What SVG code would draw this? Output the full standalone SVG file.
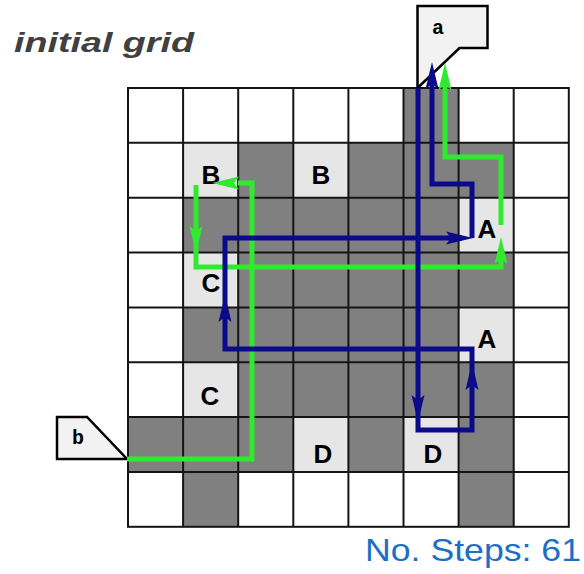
<svg xmlns="http://www.w3.org/2000/svg" xmlns:xlink="http://www.w3.org/1999/xlink" width="584" height="574" viewBox="0 0 584 574">
<style>
.dk{fill:#808080}
.lt{fill:#e6e6e6}
.gl{fill:none;stroke:#141414;stroke-width:2}
.lbl{font-family:"Liberation Sans",Arial,sans-serif;font-weight:bold;font-size:26px;fill:#000;text-anchor:middle}
.pin{fill:#f2f2f2;stroke:#000;stroke-width:2.5;stroke-linejoin:miter}
.pint{font-family:"Liberation Mono","Courier New",monospace;font-weight:bold;font-size:20px;fill:#000;text-anchor:middle}
.blue{fill:none;stroke:#0a0a8a;stroke-width:5}
.green{fill:none;stroke:#30ea30;stroke-width:5}
.ahb{fill:#0a0a8a}
.ahg{fill:#30ea30}
</style>
<defs>
<path id="ah" d="M0,0 L-27,-6.5 L-22,0 L-27,6.5 Z"/>
</defs>
<rect width="584" height="574" fill="#fff"/>
<text x="14" y="52" font-family="'Liberation Sans',Arial,sans-serif" font-weight="bold" font-style="italic" font-size="28" fill="#404040" textLength="180" lengthAdjust="spacingAndGlyphs">initial grid</text>
<g id="grid">
<rect x="128" y="88" width="440.8" height="438.8" fill="#fff"/>
<rect class="dk" x="403.5" y="88" width="55.1" height="54.85"/>
<rect class="dk" x="238.2" y="142.85" width="55.1" height="54.85"/>
<rect class="dk" x="348.4" y="142.85" width="165.3" height="54.85"/>
<rect class="dk" x="183.1" y="197.7" width="275.5" height="54.85"/>
<rect class="dk" x="238.2" y="252.55" width="275.5" height="54.85"/>
<rect class="dk" x="183.1" y="307.4" width="275.5" height="54.85"/>
<rect class="dk" x="238.2" y="362.25" width="275.5" height="54.85"/>
<rect class="dk" x="128" y="417.1" width="165.3" height="54.85"/>
<rect class="dk" x="348.4" y="417.1" width="55.1" height="54.85"/>
<rect class="dk" x="458.6" y="417.1" width="55.1" height="54.85"/>
<rect class="dk" x="183.1" y="471.95" width="55.1" height="54.85"/>
<rect class="dk" x="458.6" y="471.95" width="55.1" height="54.85"/>
<rect class="lt" x="183.1" y="142.85" width="55.1" height="54.85"/>
<rect class="lt" x="293.3" y="142.85" width="55.1" height="54.85"/>
<rect class="lt" x="458.6" y="197.7" width="55.1" height="54.85"/>
<rect class="lt" x="183.1" y="252.55" width="55.1" height="54.85"/>
<rect class="lt" x="458.6" y="307.4" width="55.1" height="54.85"/>
<rect class="lt" x="183.1" y="362.25" width="55.1" height="54.85"/>
<rect class="lt" x="293.3" y="417.1" width="55.1" height="54.85"/>
<rect class="lt" x="403.5" y="417.1" width="55.1" height="54.85"/>
<path class="gl" d="M183.1,88V526.8M238.2,88V526.8M293.3,88V526.8M348.4,88V526.8M403.5,88V526.8M458.6,88V526.8M513.7,88V526.8M128,142.85H568.8M128,197.7H568.8M128,252.55H568.8M128,307.4H568.8M128,362.25H568.8M128,417.1H568.8M128,471.95H568.8"/>
<rect class="gl" x="128" y="88" width="440.8" height="438.8" stroke-width="2.5"/>
</g>
<g id="labels">
<text class="lbl" x="211" y="184">B</text>
<text class="lbl" x="321" y="184">B</text>
<text class="lbl" x="487" y="238">A</text>
<text class="lbl" x="211" y="292">C</text>
<text class="lbl" x="487" y="348">A</text>
<text class="lbl" x="210" y="405">C</text>
<text class="lbl" x="323" y="463">D</text>
<text class="lbl" x="433" y="463">D</text>
</g>
<g id="pin-a">
<polygon class="pin" points="417.5,6 487.5,6 487.5,48 459.5,48 417.5,88"/>
<text class="pint" x="438" y="34">a</text>
</g>
<g id="pin-b">
<polygon class="pin" points="57,417 87,417 127,459 57,459"/>
<text class="pint" x="78" y="444">b</text>
</g>
<g id="connectors">
<path class="green" d="M127,459H252V183H238"/>
<path class="green" d="M196,185V267H501V250"/>
<path class="green" d="M501,225V157H445V80"/>
<use href="#ah" class="ahg" transform="translate(212,183) rotate(180)"/>
<use href="#ah" class="ahg" transform="translate(196,253) rotate(90)"/>
<use href="#ah" class="ahg" transform="translate(501,237) rotate(-90)"/>
<use href="#ah" class="ahg" transform="translate(445,63) rotate(-90)"/>
<path class="blue" d="M418,88V430H472V349H225V238H462"/>
<path class="blue" d="M472,238V184H432V78"/>
<use href="#ah" class="ahb" transform="translate(418,422) rotate(90)"/>
<use href="#ah" class="ahb" transform="translate(472,363) rotate(-90)"/>
<use href="#ah" class="ahb" transform="translate(225,295) rotate(-90)"/>
<use href="#ah" class="ahb" transform="translate(473,238)"/>
<use href="#ah" class="ahb" transform="translate(432,62) rotate(-90)"/>
</g>
<text x="365" y="561" font-family="'Liberation Sans',Arial,sans-serif" font-size="32" fill="#1b6fc5" textLength="216" lengthAdjust="spacingAndGlyphs">No. Steps: 61</text>
</svg>
